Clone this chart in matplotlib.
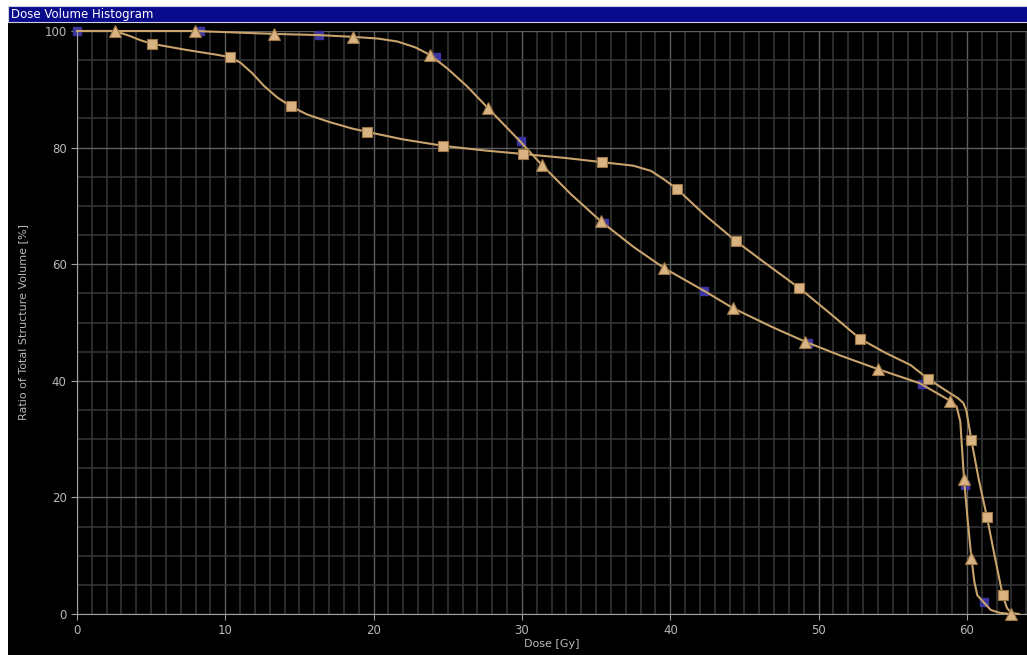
import matplotlib
matplotlib.use("Agg")
import matplotlib.pyplot as plt
from matplotlib.patches import Rectangle
from matplotlib.ticker import MultipleLocator

# square structure: curve trace and marker points
sq_curve_x = [0, 2.56, 3.5, 4.3, 5.06, 7.5, 9.5, 10.3, 11.0, 11.8, 12.6, 13.5, 14.4, 15.5,
              17.0, 18.5, 19.55, 22.0, 24.7, 27.5, 30.1, 33.0, 35.4, 37.5, 38.7, 39.6,
              40.45, 42.3, 44.4, 46.5, 48.7, 50.8, 52.8, 54.5, 56.2, 57.4, 58.6, 59.4,
              59.75, 59.95, 60.3, 60.8, 61.35, 61.9, 62.4, 62.7, 63.0, 63.5]
sq_curve_y = [100, 100, 99.2, 98.4, 97.8, 96.7, 95.9, 95.5, 94.6, 92.8, 90.6, 88.6, 87.1, 85.7,
              84.4, 83.3, 82.7, 81.4, 80.3, 79.5, 78.9, 78.2, 77.5, 76.9, 76.0, 74.5,
              72.9, 68.5, 64.0, 60.0, 55.9, 51.5, 47.2, 44.8, 42.7, 40.3, 38.3, 37.0,
              36.2, 35.0, 29.8, 23.0, 16.6, 9.5, 3.3, 1.0, 0.2, 0]
sq_mark_x = [5.06, 10.3, 14.4, 19.55, 24.7, 30.1, 35.4, 40.45, 44.4, 48.7, 52.8, 57.4,
             60.3, 61.35, 62.4]
sq_mark_y = [97.8, 95.5, 87.1, 82.7, 80.3, 78.9, 77.5, 72.9, 64.0, 55.9, 47.2, 40.3,
             29.8, 16.6, 3.3]

# triangle structure
tri_curve_x = [0, 2.56, 7.95, 13.3, 16.3, 18.6, 20.3, 21.6, 22.8, 23.8, 25.0, 26.3, 27.7,
               29.9, 31.35, 33.3, 35.3, 37.5, 39.6, 42.3, 44.2, 46.8, 49.1, 51.5, 54.0,
               56.8, 58.85, 59.3, 59.55, 59.8, 60.05, 60.3, 60.5, 60.7, 61.2, 61.6, 62.2, 63.0]
tri_curve_y = [100, 100, 100, 99.5, 99.3, 99.0, 98.7, 98.2, 97.2, 95.9, 93.5, 90.5, 86.8,
               81.0, 77.0, 72.0, 67.4, 63.0, 59.3, 55.4, 52.5, 49.3, 46.7, 44.3, 42.0,
               39.6, 36.6, 35.6, 33.0, 23.2, 16.0, 9.6, 5.5, 3.2, 1.8, 0.7, 0.2, 0]
tri_mark_x = [2.56, 7.95, 13.3, 18.6, 23.8, 27.7, 31.35, 35.3, 39.6, 44.2, 49.1, 54.0,
              58.85, 59.8, 60.3, 63.0]
tri_mark_y = [100, 100, 99.5, 99.0, 95.9, 86.8, 77.0, 67.4, 59.3, 52.5, 46.7, 42.0,
              36.6, 23.2, 9.6, 0]

# blue markers lying under the triangle curve
blue_x = [0, 8.3, 16.3, 24.2, 29.9, 35.5, 42.3, 49.3, 57.0, 59.9, 61.15]
blue_y = [100, 100, 99.3, 95.5, 81.1, 67.1, 55.4, 46.5, 39.5, 22.1, 2.0]

line_col = "#c9a36c"
face_col = "#d9b381"
edge_col = "#9c7646"
text_col = "#b8b8b8"

fig = plt.figure(figsize=(10.27, 6.55), dpi=100, facecolor="white")

# black panel and title bar
fig.patches.append(Rectangle((8 / 1027, 0), 1, (655 - 22) / 655, transform=fig.transFigure,
                             facecolor="black", edgecolor="none", zorder=-10))
fig.patches.append(Rectangle((8 / 1027, (655 - 22) / 655), 1, 16 / 655, transform=fig.transFigure,
                             facecolor="#0a0a8c", edgecolor="#d0d0e0", linewidth=0.8, zorder=-10))
fig.text(11 / 1027, (655 - 14.5) / 655, "Dose Volume Histogram", color="white",
         fontsize=8.5, va="center", ha="left")

ax = fig.add_axes([77 / 1027, 41 / 655, 950 / 1027, 583 / 655])
ax.set_facecolor("black")
ax.set_xlim(0, 950 / 14.833)
ax.set_ylim(0, 100)

ax.xaxis.set_major_locator(MultipleLocator(10))
ax.xaxis.set_minor_locator(MultipleLocator(1))
ax.yaxis.set_major_locator(MultipleLocator(20))
ax.yaxis.set_minor_locator(MultipleLocator(5))
ax.grid(which="major", color="#5e5e5e", linewidth=1.0)
ax.grid(which="minor", color="#333333", linewidth=1.2)
ax.set_axisbelow(True)

for side in ["top", "right"]:
    ax.spines[side].set_visible(False)
for side in ["left", "bottom"]:
    ax.spines[side].set_color("#a0a0a0")
ax.tick_params(which="major", colors="#a0a0a0", labelcolor=text_col, labelsize=8.5, length=4)
ax.tick_params(which="minor", length=0)

ax.set_xlabel("Dose [Gy]", color=text_col, fontsize=8, labelpad=1)
ax.set_ylabel("Ratio of Total Structure Volume [%]", color=text_col, fontsize=8, labelpad=12)

ax.plot(blue_x, blue_y, linestyle="none", marker="s", markersize=5.5, color="#3c35a0",
        markeredgecolor="#3c35a0", zorder=2, clip_on=False)
ax.plot(sq_curve_x, sq_curve_y, color=line_col, linewidth=1.5, zorder=3, clip_on=False)
ax.plot(tri_curve_x, tri_curve_y, color=line_col, linewidth=1.5, zorder=3, clip_on=False)
ax.plot(sq_mark_x, sq_mark_y, linestyle="none", marker="s", markersize=7.5,
        markerfacecolor=face_col, markeredgecolor=edge_col, markeredgewidth=0.8, zorder=4, clip_on=False)
ax.plot(tri_mark_x, tri_mark_y, linestyle="none", marker="^", markersize=8,
        markerfacecolor=face_col, markeredgecolor=edge_col, markeredgewidth=0.8, zorder=4, clip_on=False)

fig.savefig("out.png", dpi=100, facecolor="white")
